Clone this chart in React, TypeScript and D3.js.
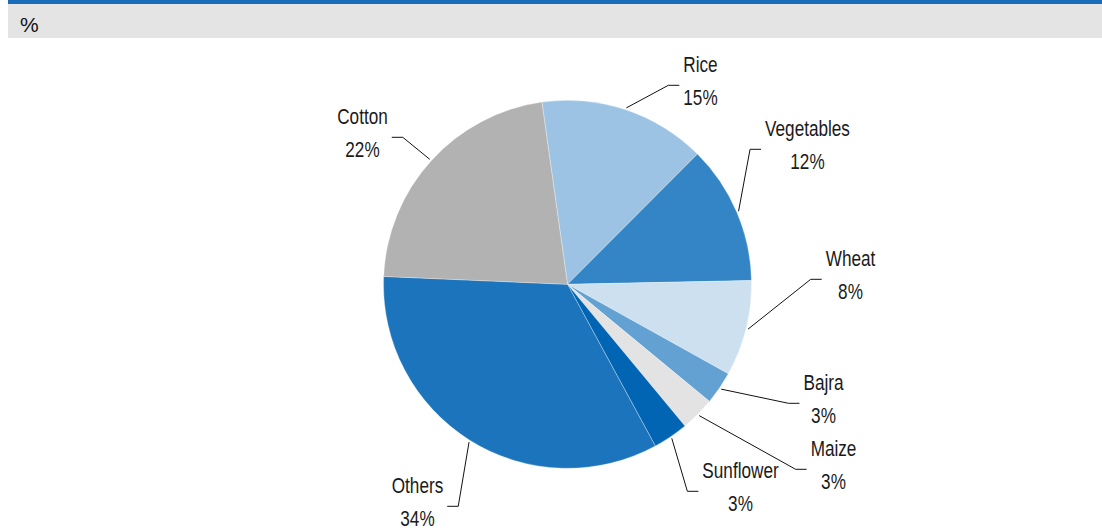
import React, { useEffect, useRef } from "react";
import * as d3 from "d3";

// ---- data ----
const categories = ["Rice", "Vegetables", "Wheat", "Bajra", "Maize", "Sunflower", "Others", "Cotton"];
const shares = [14.7, 12.2, 8.4, 2.9, 3.0, 3.1, 33.6, 22.1];
const unitLabel = "%";

// ---- styles / layout ----
const colors = ["#9dc3e4", "#3485c5", "#cce0f0", "#63a1d2", "#e3e3e3", "#0265b4", "#1c75bc", "#b2b2b2"];
// label anchor (center x, first baseline) offsets from pie centre
const labelOffsets: [number, number][] = [
  [133, -212],
  [240, -148],
  [283, -18],
  [256, 106],
  [266, 172],
  [173, 194],
  [-150, 209],
  [-205, -160],
];

const W = 1102;
const H = 531;
const CX = 567.5;
const CY = 284.3;
const R = 184;
const START = (-8 * Math.PI) / 180;
const LABEL_FONT = "'Liberation Sans', Arial, sans-serif";
const LABEL_SIZE = 22;
const NARROW = 0.78;

export default function App() {
  const ref = useRef<SVGSVGElement | null>(null);

  useEffect(() => {
    const svg = d3.select(ref.current);
    svg.selectAll("*").remove();

    // header
    svg.append("rect").attr("x", 8).attr("y", 4).attr("width", W - 8).attr("height", 34).attr("fill", "#e4e4e4");
    svg.append("rect").attr("x", 8).attr("y", 0).attr("width", W - 8).attr("height", 4).attr("fill", "#1a6bb8");
    svg
      .append("text")
      .attr("x", 20)
      .attr("y", 32)
      .attr("font-family", "'Liberation Sans', Arial, sans-serif")
      .attr("font-size", 21)
      .attr("fill", "#111")
      .text(unitLabel);

    const data = categories.map((c, i) => ({ name: c, value: shares[i], color: colors[i], off: labelOffsets[i] }));
    const pie = d3
      .pie<any>()
      .sort(null)
      .value((d) => d.value)
      .startAngle(START)
      .endAngle(START + 2 * Math.PI);
    const arcs = pie(data);
    const arc = d3.arc<any>().innerRadius(0).outerRadius(R);

    const g = svg.append("g").attr("transform", `translate(${CX},${CY})`);
    g.selectAll("path.slice")
      .data(arcs)
      .enter()
      .append("path")
      .attr("class", "slice")
      .attr("d", arc as any)
      .attr("fill", (d: any) => d.data.color)
      .attr("stroke", "#ffffff")
      .attr("stroke-width", 0.3);

    arcs.forEach((a: any) => {
      const [ox, oy] = a.data.off;
      const lg = g.append("g");
      const tg = lg.append("g").attr("transform", `translate(${ox},${oy}) scale(${NARROW},1)`);
      const t1 = tg
        .append("text")
        .attr("x", 0)
        .attr("y", 0)
        .attr("text-anchor", "middle")
        .attr("font-family", LABEL_FONT)
        .attr("font-size", LABEL_SIZE)
        .attr("fill", "#1a1a1a")
        .text(a.data.name);
      tg.append("text")
        .attr("x", 0)
        .attr("y", 33)
        .attr("text-anchor", "middle")
        .attr("font-family", LABEL_FONT)
        .attr("font-size", LABEL_SIZE)
        .attr("fill", "#1a1a1a")
        .text(`${Math.round(a.data.value)}%`);

      const w = (t1.node() as SVGTextElement).getComputedTextLength() * NARROW;
      const mid = (a.startAngle + a.endAngle) / 2;
      const sx = Math.sin(mid) * (R + 2);
      const sy = -Math.cos(mid) * (R + 2);
      const ly = oy + 13;
      const leftSide = ox < sx;
      const endX = leftSide ? ox + w / 2 + 4 : ox - w / 2 - 4;
      const elbowX = leftSide ? endX + 11 : endX - 11;
      const line = d3.line();
      lg.append("path")
        .attr("d", line([
          [sx, sy],
          [elbowX, ly],
          [endX, ly],
        ]) as string)
        .attr("fill", "none")
        .attr("stroke", "#111")
        .attr("stroke-width", 1);
    });
  }, []);

  return (
    <svg
      ref={ref}
      width={W}
      height={H}
      style={{ position: "absolute", left: 0, top: 0, background: "#fff" }}
    />
  );
}
